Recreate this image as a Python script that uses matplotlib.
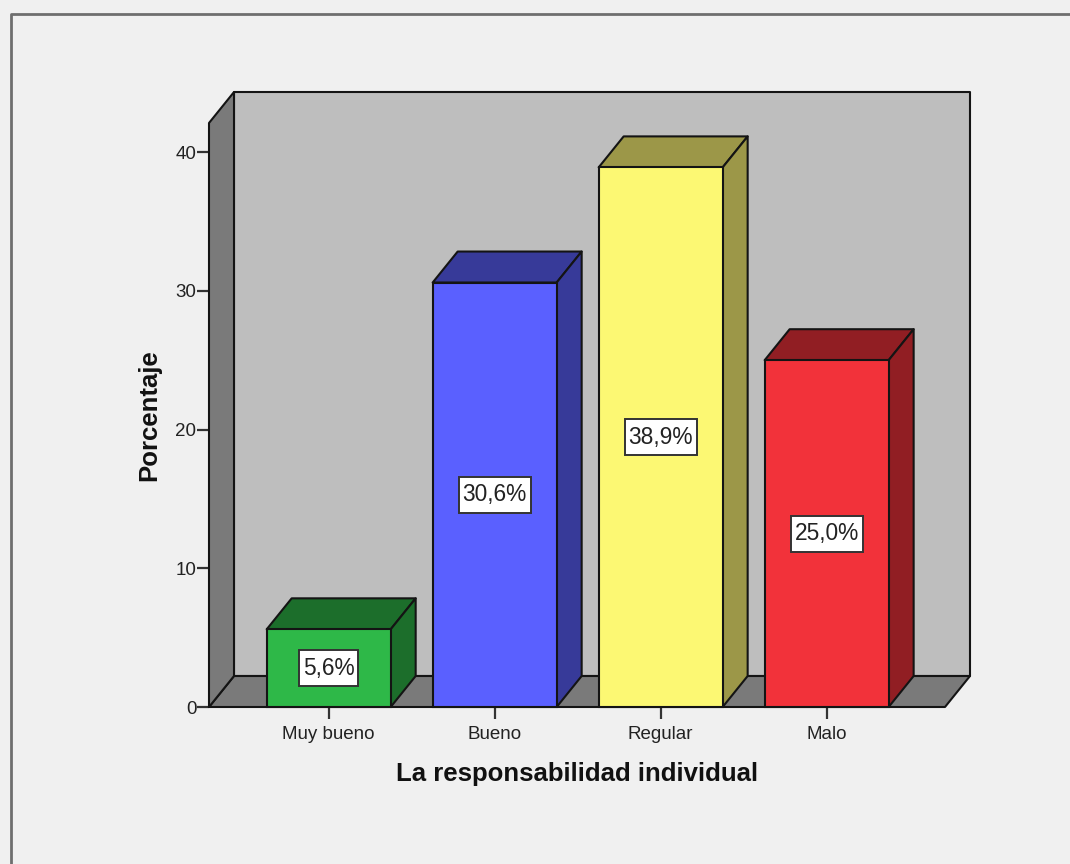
import matplotlib.pyplot as plt
from matplotlib.lines import Line2D
from matplotlib.patches import Polygon
import numpy as np

CATEGORIES = ["Muy bueno", "Bueno", "Regular", "Malo"]
PERCENTS = [5.6, 30.6, 38.9, 25.0]
VALUE_LABELS = ["5,6%", "30,6%", "38,9%", "25,0%"]
Y_TICKS = [0, 10, 20, 30, 40]
X_TITLE = "La responsabilidad individual"
Y_TITLE = "Porcentaje"

FRONT_COLORS = ["#2eb848", "#5a60ff", "#fcf873", "#f2323a"]
SIDE_COLORS = ["#1c6e2b", "#373a99", "#9c9748", "#911e23"]

W_PX, H_PX = 1070, 864
BG = "#f0f0f0"
WALL = "#bebebe"
FLOOR = "#7a7a7a"
EDGE = "#141414"
TEXT = "#222222"
LW = 1.5

# pixel box of the front plane
LEFT, RIGHT, TOP, BOTTOM = 209, 945, 123, 707
X_LIMS = (-0.721, 3.713)
Y_LIMS = (0, 42.1)
BAR_WIDTH = 0.747
# how far the 3d effect goes back, in data units
DEPTH_X = 25 / 166
DEPTH_Y = 31 / 13.875

plt.rcParams["font.family"] = ["Liberation Sans", "DejaVu Sans"]


def add_face(ax, points, color, zorder):
    ax.add_patch(Polygon(points, closed=True, facecolor=color, edgecolor=EDGE,
                         linewidth=LW, joinstyle="round", clip_on=False, zorder=zorder))


def draw_walls(ax):
    x0, x1 = X_LIMS
    y0, y1 = Y_LIMS
    dx, dy = DEPTH_X, DEPTH_Y
    add_face(ax, [(x0 + dx, y0 + dy), (x1 + dx, y0 + dy), (x1 + dx, y1 + dy), (x0 + dx, y1 + dy)], WALL, 1)
    add_face(ax, [(x0, y0), (x1, y0), (x1 + dx, y0 + dy), (x0 + dx, y0 + dy)], FLOOR, 2)
    add_face(ax, [(x0, y0), (x0 + dx, y0 + dy), (x0 + dx, y1 + dy), (x0, y1)], FLOOR, 2)


def draw_bar_depth(ax, x, value, side_color):
    left = x - BAR_WIDTH / 2
    right = x + BAR_WIDTH / 2
    dx, dy = DEPTH_X, DEPTH_Y
    add_face(ax, [(left, value), (right, value), (right + dx, value + dy), (left + dx, value + dy)], side_color, 3)
    add_face(ax, [(right, 0), (right + dx, dy), (right + dx, value + dy), (right, value)], side_color, 3)


def main():
    fig = plt.figure(figsize=(W_PX / 100, H_PX / 100), dpi=100, facecolor=BG)
    ax = fig.add_axes([LEFT / W_PX, 1 - BOTTOM / H_PX, (RIGHT - LEFT) / W_PX, (BOTTOM - TOP) / H_PX])
    ax.patch.set_visible(False)
    ax.set_xlim(X_LIMS)
    ax.set_ylim(Y_LIMS)
    for spine in ax.spines.values():
        spine.set_visible(False)

    # outer frame only shows on the top and left
    fig.add_artist(Line2D([11 / W_PX, 11 / W_PX, 1], [0, 1 - 14 / H_PX, 1 - 14 / H_PX],
                          color="#6e6e6e", linewidth=2.0))

    draw_walls(ax)

    positions = np.arange(len(CATEGORIES))
    ax.bar(positions, PERCENTS, width=BAR_WIDTH, color=FRONT_COLORS, edgecolor=EDGE,
           linewidth=LW, zorder=4, clip_on=False)
    for x, value, side in zip(positions, PERCENTS, SIDE_COLORS):
        draw_bar_depth(ax, x, value, side)

    for x, value, label in zip(positions, PERCENTS, VALUE_LABELS):
        ax.text(x, value / 2, label, ha="center", va="center", fontsize=16.4, color=TEXT, zorder=6,
                bbox=dict(boxstyle="square,pad=0.17", mutation_aspect=1.7, facecolor="white",
                          edgecolor="#333333", linewidth=1.4))

    ax.set_xticks(positions, CATEGORIES)
    ax.set_yticks(Y_TICKS)
    ax.tick_params(axis="both", length=8.6, width=1.6, color="#333333", labelcolor=TEXT, labelsize=13.5)
    ax.tick_params(axis="x", pad=5)
    ax.tick_params(axis="y", pad=0.5)

    ax.set_xlabel(X_TITLE, fontsize=18.5, fontweight="bold", color="#111111", labelpad=13.5)
    ax.set_ylabel(Y_TITLE, fontsize=18.5, fontweight="bold", color="#111111", labelpad=10.5)

    fig.savefig("out.png", dpi=100, facecolor=BG)


if __name__ == "__main__":
    main()
